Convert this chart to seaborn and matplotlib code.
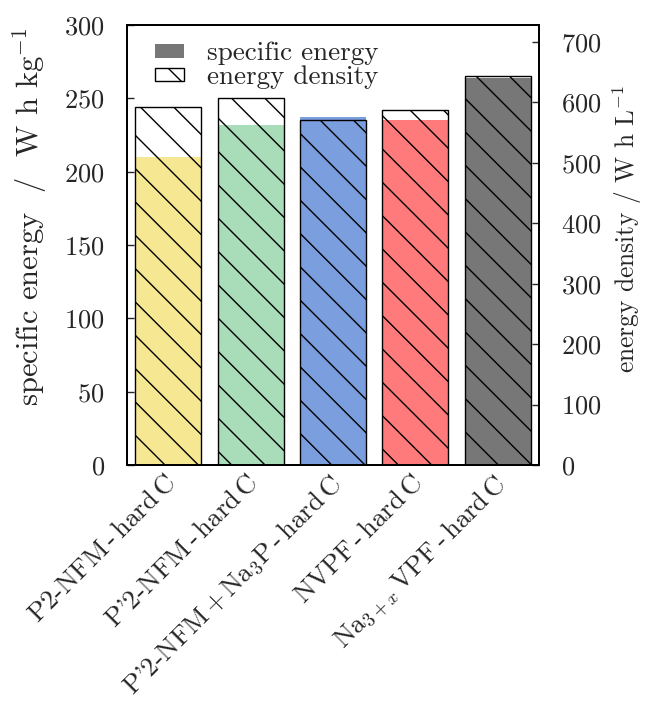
import numpy as np
import pandas as pd
import matplotlib
matplotlib.use("Agg")
import matplotlib.pyplot as plt
import matplotlib.transforms as mtransforms
import seaborn as sns
from matplotlib.patches import Patch

# data
cells = ["P2-NFM$\\,$-$\\,$hard$\\,$C",
         "P'2-NFM$\\,$-$\\,$hard$\\,$C",
         "P'2-NFM$\\,$+$\\,$Na$_3$P$\\,$-$\\,$hard$\\,$C",
         "NVPF$\\,$-$\\,$hard$\\,$C",
         "Na$_{3+x}\\,$VPF$\\,$-$\\,$hard$\\,$C"]
specific_energy = [210, 232, 237, 235, 264]      # W h kg-1 (left axis)
energy_density = [592, 608, 571, 588, 643]       # W h L-1 (right axis)
bar_colors = ["#f6e893", "#a9dcb8", "#7b9ede", "#ff7b7b", "#777777"]

sns.set_style("white")
plt.rcParams["font.family"] = ["cmr10", "DejaVu Serif"]
plt.rcParams["mathtext.fontset"] = "cm"
plt.rcParams["axes.formatter.use_mathtext"] = True
plt.rcParams["hatch.linewidth"] = 1.0

df = pd.DataFrame({"cell": cells, "se": specific_energy, "ed": energy_density})

fig = plt.figure(figsize=(6.49, 7.03), dpi=100)
ax = fig.add_axes([127 / 649, 1 - 465 / 703, 412 / 649, 440 / 703])

# specific energy - coloured bars
sns.barplot(data=df, x="cell", y="se", hue="cell", palette=bar_colors,
            width=0.8, saturation=1, legend=False, ax=ax)
for p in ax.patches:
    p.set_edgecolor("none")

# energy density - hatched outline bars on twin axis
ax2 = ax.twinx()
sns.barplot(data=df, x="cell", y="ed", color="white", width=0.8,
            saturation=1, ax=ax2)
for p in ax2.patches:
    p.set_facecolor("none")
    p.set_edgecolor("black")
    p.set_linewidth(1.0)
    p.set_hatch("\\")

ax.set_xlim(-0.5, 4.5)
ax.set_ylim(0, 300)
ax2.set_ylim(0, 728)
ax.set_yticks(np.arange(0, 301, 50))
ax2.set_yticks(np.arange(0, 701, 100))
ax.set_ylabel("specific energy  /  W h kg$^{-1}$", fontsize=22)
ax2.set_ylabel("energy density / W h L$^{-1}$", fontsize=18.3)
ax.yaxis.set_label_coords(-0.19, 0.565)
ax2.yaxis.set_label_coords(1.175, 0.537)
ax.set_xlabel("")
ax2.set_xlabel("")
ax.tick_params(axis="y", direction="in", length=5, width=1, pad=16, labelsize=19)
ax2.tick_params(axis="y", direction="in", length=5, width=1, pad=16, labelsize=19)
ax.tick_params(axis="x", length=0, pad=0, labelsize=19.3)
ax.set_xticks(range(len(cells)))
ax.set_xticklabels(cells, rotation=45, ha="right", va="top",
                   rotation_mode="anchor")
shift = mtransforms.ScaledTranslation(-0.05, -0.06, fig.dpi_scale_trans)
for lab in ax.get_xticklabels():
    lab.set_transform(lab.get_transform() + shift)

for a in (ax, ax2):
    for s in a.spines.values():
        s.set_linewidth(1.3)
        s.set_color("black")

handles = [Patch(facecolor="#777777", edgecolor="none", label="specific energy"),
           Patch(facecolor="white", edgecolor="black", hatch="\\", label="energy density")]
ax2.legend(handles=handles, loc="upper left", frameon=False, fontsize=19.5,
           handlelength=1.07, handleheight=0.4, handletextpad=0.85,
           labelspacing=0.0, borderpad=0, borderaxespad=0,
           bbox_to_anchor=(0.068, 0.962))

fig.savefig("out.png", dpi=100)
